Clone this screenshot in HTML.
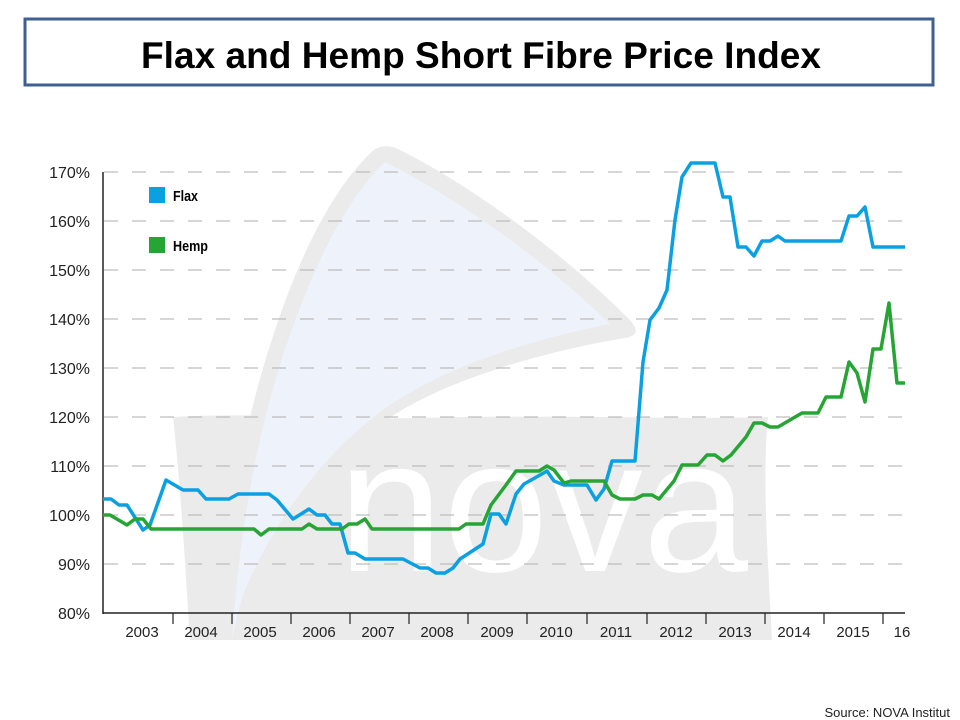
<!DOCTYPE html>
<html><head><meta charset="utf-8"><style>
html,body{margin:0;padding:0;background:#fff;}
svg{display:block;}
</style></head><body>
<svg width="960" height="720" viewBox="0 0 960 720" xmlns="http://www.w3.org/2000/svg" font-family="Liberation Sans, sans-serif">
<rect width="960" height="720" fill="#fff"/>
<!-- title -->
<rect x="25" y="19" width="908" height="66" fill="#fff" stroke="#3f5f8f" stroke-width="3"/>
<text x="481" y="68" text-anchor="middle" font-weight="bold" font-size="37" textLength="680" lengthAdjust="spacingAndGlyphs" fill="#000">Flax and Hemp Short Fibre Price Index</text>

<!-- watermark -->
<path d="M173,417 C260,412 330,420 420,418 C560,414 680,420 768,417 C762,480 768,560 772,640 L190,640 C185,560 180,480 173,417 Z" fill="#ebebeb"/>
<path d="M217,640 C225,520 245,420 275,330 C305,240 340,180 374,150 C380,145 392,145 400,150 C470,185 560,250 630,320 C640,332 636,336 625,338 C540,352 450,380 397,413 C330,455 270,530 240,600 C232,620 228,640 226,640 Z" fill="#ebebeb"/>
<path d="M232,640 C240,520 260,420 290,335 C318,255 350,195 385,162 C460,200 545,260 610,324 C530,340 450,365 390,405 C325,450 275,520 245,590 C238,610 235,625 232,640 Z" fill="#edf2fb"/>
<text x="338" y="571" font-size="190" fill="#fff" textLength="410" lengthAdjust="spacingAndGlyphs">nova</text>

<!-- grid -->
<g stroke="#bdbdbd" stroke-width="1.2" stroke-dasharray="14,14">
<line x1="104" y1="172" x2="905" y2="172"/>
<line x1="104" y1="221" x2="905" y2="221"/>
<line x1="104" y1="270" x2="905" y2="270"/>
<line x1="104" y1="319" x2="905" y2="319"/>
<line x1="104" y1="368" x2="905" y2="368"/>
<line x1="104" y1="417" x2="905" y2="417"/>
<line x1="104" y1="466" x2="905" y2="466"/>
<line x1="104" y1="515" x2="905" y2="515"/>
<line x1="104" y1="564" x2="905" y2="564"/>
</g>
<!-- axes -->
<line x1="103" y1="172" x2="103" y2="614" stroke="#222" stroke-width="1.5"/>
<line x1="103" y1="613" x2="905" y2="613" stroke="#222" stroke-width="1.5"/>
<g stroke="#222" stroke-width="1.2">
<line x1="173" y1="613" x2="173" y2="624"/><line x1="232" y1="613" x2="232" y2="624"/>
<line x1="291" y1="613" x2="291" y2="624"/><line x1="350" y1="613" x2="350" y2="624"/>
<line x1="409" y1="613" x2="409" y2="624"/><line x1="468" y1="613" x2="468" y2="624"/>
<line x1="527" y1="613" x2="527" y2="624"/><line x1="587" y1="613" x2="587" y2="624"/>
<line x1="647" y1="613" x2="647" y2="624"/><line x1="706" y1="613" x2="706" y2="624"/>
<line x1="765" y1="613" x2="765" y2="624"/><line x1="824" y1="613" x2="824" y2="624"/>
<line x1="883" y1="613" x2="883" y2="624"/>
</g>
<g font-size="16" fill="#222" text-anchor="end">
<text x="90" y="178">170%</text><text x="90" y="227">160%</text><text x="90" y="276">150%</text>
<text x="90" y="325">140%</text><text x="90" y="374">130%</text><text x="90" y="423">120%</text>
<text x="90" y="472">110%</text><text x="90" y="521">100%</text><text x="90" y="570">90%</text>
<text x="90" y="619">80%</text>
</g>
<g font-size="15" fill="#222" text-anchor="middle">
<text x="142" y="637">2003</text><text x="201" y="637">2004</text><text x="260" y="637">2005</text>
<text x="319" y="637">2006</text><text x="378" y="637">2007</text><text x="437" y="637">2008</text>
<text x="497" y="637">2009</text><text x="556" y="637">2010</text><text x="616" y="637">2011</text>
<text x="676" y="637">2012</text><text x="735" y="637">2013</text><text x="794" y="637">2014</text>
<text x="853" y="637">2015</text><text x="902" y="637">16</text>
</g>

<!-- legend -->
<rect x="149" y="187" width="16" height="16" fill="#0aa0e2"/>
<text x="173" y="201" font-size="15" font-weight="bold" textLength="25" lengthAdjust="spacingAndGlyphs">Flax</text>
<rect x="149" y="237" width="16" height="16" fill="#26a535"/>
<text x="173" y="251" font-size="15" font-weight="bold" textLength="35" lengthAdjust="spacingAndGlyphs">Hemp</text>

<!-- series -->
<polyline fill="none" stroke="#0aa0e2" stroke-width="3.5" stroke-linejoin="round" points="103,499 111,499 119,505 127,505 143,530 150,525 166,480 183,490 198,490 206,499 229,499 238,494 269,494 277,500 293,519 309,509 317,515 325,515 332,524 340,524 348,553 355,553 365,559 403,559 420,568 428,568 436,573 445,573 453,568 460,559 483,544 491,514 499,514 506,524 516,494 524,484 533,479 547,471 554,481 564,485 587,485 596,500 604,489 612,461 635,461 643,362 650,320 659,308 667,290 675,220 682,177 691,163 715,163 723,197 730,197 738,247 746,247 754,256 762,241 770,241 778,236 785,241 841,241 849,216 857,216 865,207 873,247 905,247"/>
<polyline fill="none" stroke="#26a535" stroke-width="3.5" stroke-linejoin="round" points="103,515 110,515 127,525 135,519 143,519 151,529 254,529 261,535 269,529 302,529 309,524 317,529 342,529 349,524 357,524 365,519 372,529 459,529 466,524 483,524 491,505 506,485 516,471 539,471 547,466 554,470 564,483 571,481 604,481 612,495 620,499 635,499 643,495 652,495 659,499 674,481 682,465 698,465 707,455 715,455 723,461 731,455 746,437 754,423 762,423 770,427 778,427 802,413 818,413 826,397 841,397 849,362 857,373 865,402 873,349 881,349 889,303 897,383 905,383"/>

<text x="950" y="717" text-anchor="end" font-size="13" fill="#222">Source: NOVA Institut</text>
</svg>
</body></html>
